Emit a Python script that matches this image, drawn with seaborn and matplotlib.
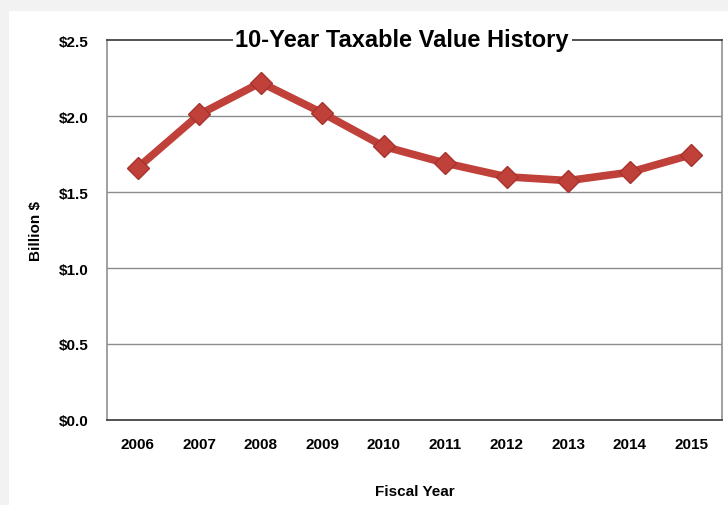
import matplotlib
matplotlib.use("Agg")
import matplotlib.pyplot as plt
from matplotlib.ticker import FixedLocator, NullFormatter
from matplotlib.patches import Rectangle
import seaborn as sns
import pandas as pd
import numpy as np

years = ["2006", "2007", "2008", "2009", "2010", "2011", "2012", "2013", "2014", "2015"]
values = [1.66, 2.01, 2.22, 2.02, 1.80, 1.69, 1.60, 1.575, 1.63, 1.745]
y_ticks = [0.0, 0.5, 1.0, 1.5, 2.0, 2.5]
y_tick_labels = ["$0.0", "$0.5", "$1.0", "$1.5", "$2.0", "$2.5"]

sns.set_style("white")
plt.rcParams["font.family"] = ["Liberation Sans", "DejaVu Sans"]
plt.rcParams["text.color"] = "black"
plt.rcParams["xtick.color"] = "black"
plt.rcParams["ytick.color"] = "black"
plt.rcParams["axes.labelcolor"] = "black"

df = pd.DataFrame({"year": years, "value": values})

fig = plt.figure(figsize=(7.28, 5.06), dpi=100)
fig.patch.set_facecolor("white")
# light grey frame around the white card
fig.patches.append(Rectangle((0, 0), 1, 1, transform=fig.transFigure,
                             facecolor="#f2f2f2", edgecolor="none", zorder=-2))
fig.patches.append(Rectangle((9 / 728, 0), 1, 1 - 12 / 506, transform=fig.transFigure,
                             facecolor="white", edgecolor="none", zorder=-1))

ax = fig.add_axes([107 / 728, 1 - 421 / 506, 615 / 728, 380 / 506])
ax.set_facecolor("white")

sns.lineplot(data=df, x="year", y="value", ax=ax, sort=False,
             color="#c0403a", linewidth=5.5, marker="D", markersize=11,
             markeredgecolor="#a8322d", markeredgewidth=1, zorder=3)

ax.set_xlim(-0.5, len(years) - 0.5)
ax.set_ylim(0, 2.5)
ax.set_yticks(y_ticks)
ax.set_yticklabels(y_tick_labels, fontsize=11, fontweight="bold")
ax.set_xticks(range(len(years)))
ax.set_xticklabels(years, fontsize=11, fontweight="bold")
ax.tick_params(axis="x", which="major", length=0, pad=12, colors="black")
ax.xaxis.set_minor_locator(FixedLocator(np.arange(-0.5, len(years), 1.0)))
ax.xaxis.set_minor_formatter(NullFormatter())
ax.tick_params(axis="x", which="minor", length=5, color="#555555", width=1, direction="out")
ax.tick_params(axis="y", which="major", length=5, color="#888888", labelcolor="black",
               width=1, direction="out", pad=8)

for yv in y_ticks[1:-1]:
    ax.axhline(yv, color="#8c8c8c", linewidth=1, zorder=1)

for side, col in [("left", "#909090"), ("right", "#909090"),
                  ("top", "#444444"), ("bottom", "#444444")]:
    ax.spines[side].set_visible(True)
    ax.spines[side].set_color(col)
    ax.spines[side].set_linewidth(1.3 if side in ("top", "bottom") else 1.2)

ax.set_xlabel("Fiscal Year", fontsize=11, fontweight="bold", labelpad=24)
ax.set_ylabel("Billion $", fontsize=11, fontweight="bold", labelpad=12)

ax.text(0.48, 1.0, "10-Year Taxable Value History", transform=ax.transAxes,
        ha="center", va="center", fontsize=17, fontweight="bold", color="black",
        bbox=dict(facecolor="white", edgecolor="none", pad=2), zorder=5)

fig.savefig("out.png", dpi=100)
